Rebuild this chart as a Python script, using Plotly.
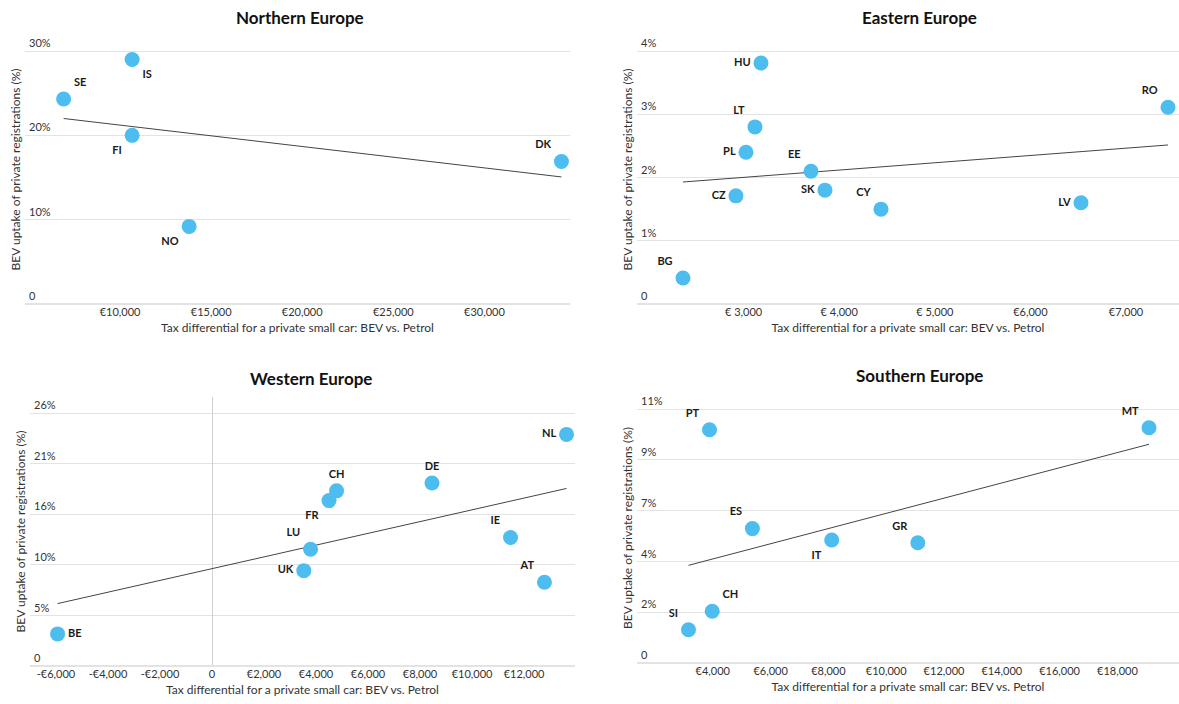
import numpy as np
import plotly.graph_objects as go

# ---------------- data ----------------
north_codes = ["SE", "IS", "FI", "NO", "DK"]
north_tax = [6900, 10660, 10660, 13790, 34230]
north_bev = [24.3, 29.0, 20.0, 9.2, 16.9]

east_codes = ["BG", "CZ", "PL", "LT", "HU", "EE", "SK", "CY", "LV", "RO"]
east_tax = [2366, 2920, 3025, 3119, 3182, 3705, 3851, 4437, 6529, 7439]
east_bev = [0.41, 1.71, 2.40, 2.80, 3.81, 2.10, 1.80, 1.50, 1.60, 3.11]

west_codes = ["BE", "UK", "LU", "FR", "CH", "DE", "IE", "AT", "NL"]
west_tax = [-5940, 3530, 3790, 4500, 4790, 8460, 11480, 12785, 13635]
west_bev = [3.3, 9.8, 12.0, 17.0, 18.0, 18.8, 13.2, 8.6, 23.8]

south_codes = ["SI", "PT", "CH", "ES", "IT", "GR", "MT"]
south_tax = [3159, 3886, 3979, 5370, 8114, 11093, 19093]
south_bev = [1.44, 10.1, 2.24, 5.82, 5.33, 5.21, 10.19]

north_xticks = [10000, 15000, 20000, 25000, 30000]
north_xtext = ["€10,000", "€15,000", "€20,000", "€25,000", "€30,000"]
north_yticks = [0, 10, 20, 30]
north_ytext = ["0", "10%", "20%", "30%"]

east_xticks = [2000, 3000, 4000, 5000, 6000, 7000]
east_xtext = ["€2,000", "€ 3,000", "€ 4,000", "€ 5,000", "€6,000", "€7,000"]
east_yticks = [0, 1, 2, 3, 4]
east_ytext = ["0", "1%", "2%", "3%", "4%"]

west_xticks = [-6000, -4000, -2000, 0, 2000, 4000, 6000, 8000, 10000, 12000]
west_xtext = ["-€6,000", "-€4,000", "-€2,000", "0", "€2,000", "€4,000", "€6,000",
              "€8,000", "€10,000", "€12,000"]
west_yticks = [0, 5.2, 10.4, 15.6, 20.8, 26]
west_ytext = ["0", "5%", "10%", "16%", "21%", "26%"]

south_xticks = [2000, 4000, 6000, 8000, 10000, 12000, 14000, 16000, 18000]
south_xtext = ["€2,000", "€4,000", "€6,000", "€8,000", "€10,000", "€12,000",
               "€14,000", "€16,000", "€18,000"]
south_yticks = [0, 2.2, 4.4, 6.6, 8.8, 11]
south_ytext = ["0", "2%", "4%", "7%", "9%", "11%"]

titles = ["Northern Europe", "Eastern Europe", "Western Europe", "Southern Europe"]
x_title = "Tax differential for a private small car: BEV vs. Petrol"
y_title = "BEV uptake of private registrations (%)"

# ---------------- styling (label positions) ----------------
label_pos = {
    "north": {"SE": "top right", "IS": "bottom right", "FI": "bottom left",
              "NO": "bottom left", "DK": "top left"},
    "east": {"BG": "top left", "CZ": "middle left", "PL": "middle left", "LT": "top left",
             "HU": "middle left", "EE": "top left", "SK": "middle left", "CY": "top left",
             "LV": "middle left", "RO": "top left"},
    "west": {"BE": "middle right", "UK": "middle left", "LU": "top left", "FR": "bottom left",
             "CH": "top center", "DE": "top center", "IE": "top left", "AT": "top left",
             "NL": "middle left"},
    "south": {"SI": "top left", "PT": "top left", "CH": "top right", "ES": "top left",
              "IT": "bottom left", "GR": "top left", "MT": "top left"},
}

FONT = "Lato, 'Source Sans Pro', 'Noto Sans', sans-serif"
BLUE = "#4cbdee"
W, H = 1179, 704
PAD = 16  # px of extra plot area above the top gridline (room for tick label)

panels = [
    dict(key="north", codes=north_codes, x=north_tax, y=north_bev,
         xt=north_xticks, xtt=north_xtext, yt=north_yticks, ytt=north_ytext,
         px=(25, 570), py=(51, 304), xr=[4780, 34700], yr=[0, 30]),
    dict(key="east", codes=east_codes, x=east_tax, y=east_bev,
         xt=east_xticks, xtt=east_xtext, yt=east_yticks, ytt=east_ytext,
         px=(637, 1179), py=(51, 304), xr=[1885, 7554], yr=[0, 4]),
    dict(key="west", codes=west_codes, x=west_tax, y=west_bev,
         xt=west_xticks, xtt=west_xtext, yt=west_yticks, ytt=west_ytext,
         px=(30, 575), py=(413, 666), xr=[-7000, 13960], yr=[0, 26]),
    dict(key="south", codes=south_codes, x=south_tax, y=south_bev,
         xt=south_xticks, xtt=south_xtext, yt=south_yticks, ytt=south_ytext,
         px=(637, 1179), py=(409, 663), xr=[1377, 20131], yr=[0, 11]),
]

fig = go.Figure()
layout = dict(
    width=W, height=H,
    margin=dict(l=0, r=0, t=0, b=0, autoexpand=False),
    paper_bgcolor="white", plot_bgcolor="white",
    showlegend=False,
    font=dict(family=FONT, color="#333333", size=12),
    annotations=[],
)

title_pos = [(300, 18), (919, 18), (311, 378), (919, 375)]

for i, p in enumerate(panels):
    n = "" if i == 0 else str(i + 1)
    xa, ya = "x" + n, "y" + n
    top_px, bot_px = p["py"]
    unit_per_px = (p["yr"][1] - p["yr"][0]) / (bot_px - top_px)
    yr = [p["yr"][0], p["yr"][1] + PAD * unit_per_px]
    xd = [p["px"][0] / W, p["px"][1] / W]
    yd = [1 - bot_px / H, 1 - (top_px - PAD) / H]

    # trend line (OLS) computed from the data
    xs = np.array(p["x"], dtype=float)
    ys = np.array(p["y"], dtype=float)
    slope, icpt = np.polyfit(xs, ys, 1)
    lx = np.array([xs.min(), xs.max()])
    fig.add_trace(go.Scatter(x=lx, y=slope * lx + icpt, mode="lines",
                             line=dict(color="#444444", width=1),
                             xaxis=xa, yaxis=ya, hoverinfo="skip"))

    pos = [label_pos[p["key"]][c] for c in p["codes"]]
    fig.add_trace(go.Scatter(x=p["x"], y=p["y"], mode="markers+text",
                             text=p["codes"], textposition=pos,
                             textfont=dict(family=FONT, size=11, color="#1a1a1a", weight="bold"),
                             marker=dict(color=BLUE, size=15, line=dict(width=0)),
                             cliponaxis=False, xaxis=xa, yaxis=ya))

    layout["xaxis" + n] = dict(
        domain=xd, range=p["xr"], anchor="free", position=yd[0], automargin=False,
        tickvals=p["xt"], ticktext=p["xtt"], ticklabeloverflow="allow",
        showgrid=False, showline=False, ticks="",
        zeroline=(p["key"] == "west"), zerolinecolor="#d0d0d0", zerolinewidth=1,
        tickfont=dict(size=11, color="#333333"),
        title=dict(text=x_title, font=dict(size=12, color="#333333"), standoff=6),
    )
    layout["yaxis" + n] = dict(
        domain=yd, range=yr, anchor="free", position=xd[0], automargin=False,
        tickvals=p["yt"], ticktext=p["ytt"],
        showgrid=True, gridcolor="#e3e3e3", gridwidth=1,
        zeroline=True, zerolinecolor="#e3e3e3", zerolinewidth=1.5,
        showline=False, ticks="",
        ticklabelposition="inside top",
        tickfont=dict(size=11, color="#333333"),
        title=dict(text=y_title, font=dict(size=12, color="#333333"), standoff=4),
    )
    tx, ty = title_pos[i]
    layout["annotations"].append(dict(
        text="<b>" + titles[i] + "</b>", x=tx / W, y=1 - ty / H,
        xref="paper", yref="paper", showarrow=False,
        xanchor="center", yanchor="middle",
        font=dict(size=17, color="#111111", family=FONT)))

fig.update_layout(**layout)
fig.write_html("out.html", config={"displayModeBar": False},
               post_script="document.body.style.margin='0px';document.body.style.overflow='hidden';")
